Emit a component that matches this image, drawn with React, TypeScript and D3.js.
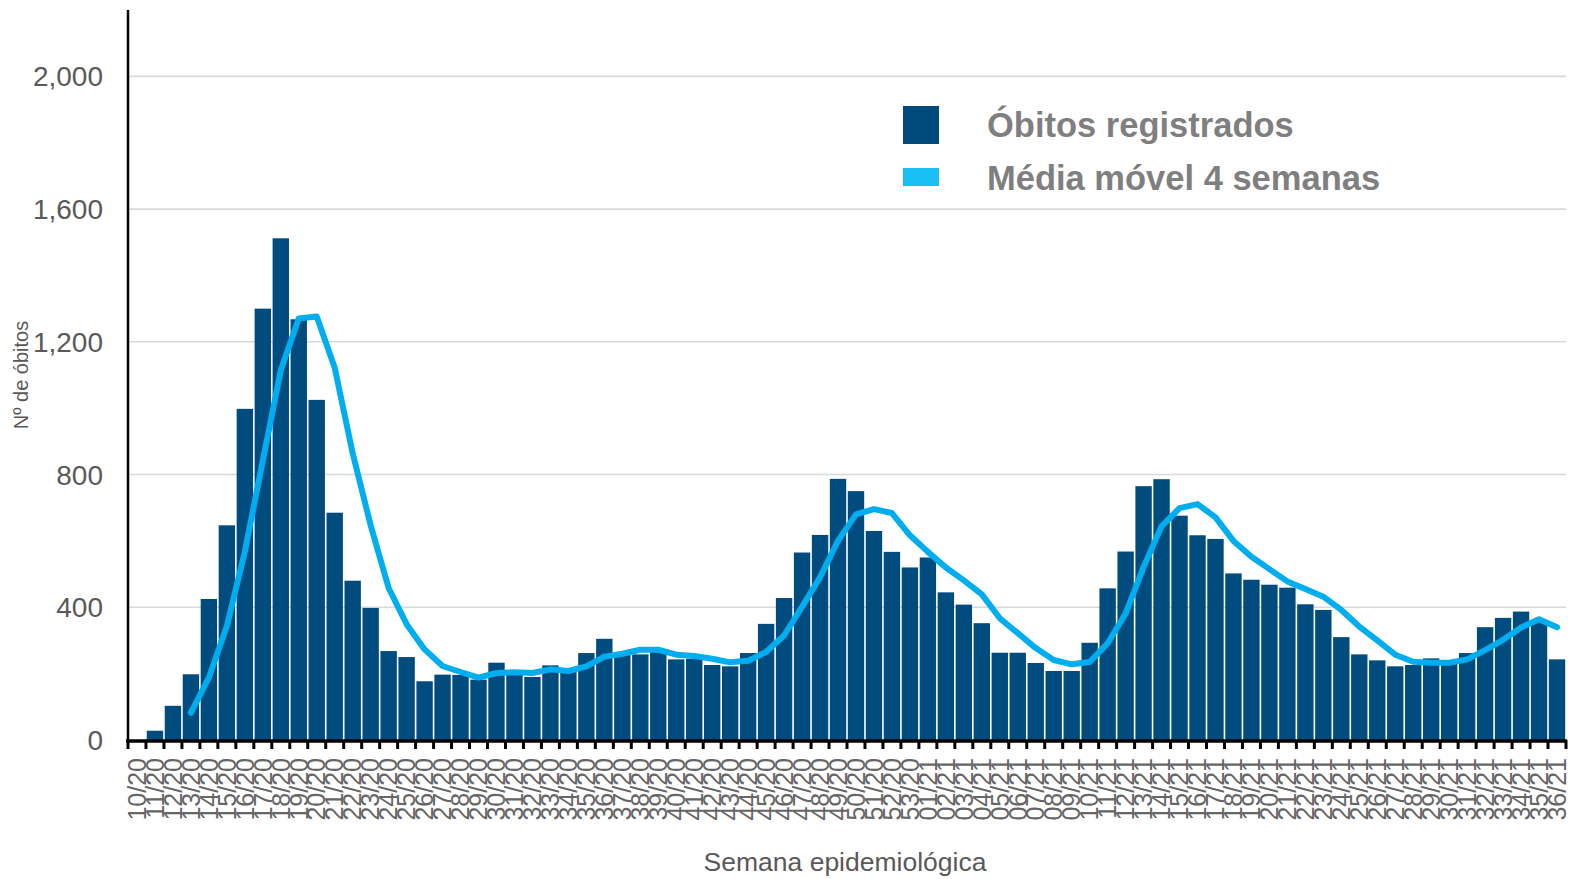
import React from "react";
import * as d3 from "d3";

const weeks: string[] = [
  "10/20","11/20","12/20","13/20","14/20","15/20","16/20","17/20","18/20","19/20",
  "20/20","21/20","22/20","23/20","24/20","25/20","26/20","27/20","28/20","29/20",
  "30/20","31/20","32/20","33/20","34/20","35/20","36/20","37/20","38/20","39/20",
  "40/20","41/20","42/20","43/20","44/20","45/20","46/20","47/20","48/20","49/20",
  "50/20","51/20","52/20","53/20","01/21","02/21","03/21","04/21","05/21","06/21",
  "07/21","08/21","09/21","10/21","11/21","12/21","13/21","14/21","15/21","16/21",
  "17/21","18/21","19/21","20/21","21/21","22/21","23/21","24/21","25/21","26/21",
  "27/21","28/21","29/21","30/21","31/21","32/21","33/21","34/21","35/21","36/21",
];

const obitos: number[] = [
  0, 28, 103, 198, 425, 647, 998, 1300, 1512, 1268,
  1025, 685, 480, 398, 268, 250, 177, 197, 196, 182,
  233, 205, 190, 225, 212, 262, 305, 262, 258, 265,
  243, 245, 226, 222, 262, 350, 428, 565, 618, 787,
  750, 630, 567, 520, 550, 445, 408, 352, 263, 263,
  232, 208, 208, 293, 457, 568, 765, 786, 676, 617,
  606, 502, 483, 468, 459, 409, 392, 310, 258, 240,
  222, 226, 246, 238, 262, 340, 368, 387, 362, 243,
];

const mediaMovel: (number | null)[] = [
  null, null, null, 82, 188, 343, 567, 842, 1114, 1270,
  1276, 1122, 864, 647, 458, 349, 273, 223, 205, 188,
  202, 204, 202, 213, 208, 222, 251, 260, 272, 272,
  257, 253, 245, 234, 239, 265, 315, 401, 490, 600,
  680, 696, 684, 617, 567, 520, 481, 439, 367, 322,
  277, 241, 228, 235, 291, 381, 521, 644, 699, 711,
  671, 600, 552, 515, 478, 455, 432, 392, 342, 300,
  257, 236, 233, 233, 243, 271, 302, 339, 364, 340,
];

const yTicks: number[] = [0, 400, 800, 1200, 1600, 2000];

const legendItems = ["Óbitos registrados", "Média móvel 4 semanas"];

const FONT = "'Liberation Sans', Arial, sans-serif";

export default function App() {
  const W = 1573;
  const H = 879;
  const left = 128;
  const right = 1566;
  const top = 10;
  const bottom = 740;

  const x = d3.scaleBand<string>().domain(weeks).range([left, right]).padding(0);
  const y = d3.scaleLinear().domain([0, 2200]).range([bottom, top]);
  const bw = x.bandwidth();

  const lineGen = d3
    .line<number | null>()
    .defined((d) => d !== null)
    .x((_, i) => (x(weeks[i]) as number) + bw / 2)
    .y((d) => y(d as number));

  const fmt = d3.format(",");

  return (
    <svg
      width={W}
      height={H}
      style={{ position: "absolute", left: 0, top: 0, background: "#fff" }}
      fontFamily={FONT}
    >
      {/* gridlines */}
      {yTicks.filter((t) => t > 0).map((t) => (
        <line key={"g" + t} x1={left} x2={right} y1={y(t)} y2={y(t)} stroke="#d9d9d9" strokeWidth={1.6} />
      ))}
      {/* bars */}
      {obitos.map((v, i) => (
        <rect
          key={"b" + i}
          x={(x(weeks[i]) as number) + 0.8}
          y={y(v)}
          width={bw - 1.6}
          height={bottom - y(v)}
          fill="#004C7F"
        />
      ))}
      {/* moving average */}
      <path
        d={lineGen(mediaMovel) || ""}
        fill="none"
        stroke="#00AEEF"
        strokeWidth={6}
        strokeLinecap="round"
        strokeLinejoin="round"
      />
      {/* y axis */}
      <line x1={left} x2={left} y1={top} y2={bottom + 2} stroke="#000" strokeWidth={2.5} />
      {yTicks.map((t) => (
        <text key={"yl" + t} x={103} y={y(t)} dy="0.36em" textAnchor="end" fontSize={28} fill="#595959">
          {fmt(t)}
        </text>
      ))}
      {/* x axis */}
      <line x1={left - 2} x2={right + 1} y1={bottom + 1} y2={bottom + 1} stroke="#000" strokeWidth={3.5} />
      {[...weeks.map((w) => x(w) as number), right].map((px, i) => (
        <line key={"xt" + i} x1={px} x2={px} y1={bottom} y2={bottom + 9} stroke="#000" strokeWidth={3} />
      ))}
      {weeks.map((w) => {
        const cx = (x(w) as number) + bw / 2;
        return (
          <text
            key={"xl" + w}
            transform={`translate(${cx},${758}) rotate(-90)`}
            textAnchor="end"
            dy="0.35em"
            fontSize={25}
            fill="#666666"
          >
            {w}
          </text>
        );
      })}
      {/* axis titles */}
      <text
        transform={`translate(21,${375}) rotate(-90)`}
        textAnchor="middle"
        dy="0.35em"
        fontSize={20}
        fill="#595959"
      >
        Nº de óbitos
      </text>
      <text x={845} y={871} textAnchor="middle" fontSize={26.5} fill="#595959">
        Semana epidemiológica
      </text>
      {/* legend */}
      <rect x={903} y={106} width={36} height={38} fill="#004A7C" />
      <rect x={903} y={168} width={36} height={18} fill="#17BFF2" />
      <text x={987} y={137} fontSize={34.5} fontWeight="bold" fill="#7F7F7F">
        {legendItems[0]}
      </text>
      <text x={987} y={190} fontSize={34.5} fontWeight="bold" fill="#7F7F7F">
        {legendItems[1]}
      </text>
    </svg>
  );
}
